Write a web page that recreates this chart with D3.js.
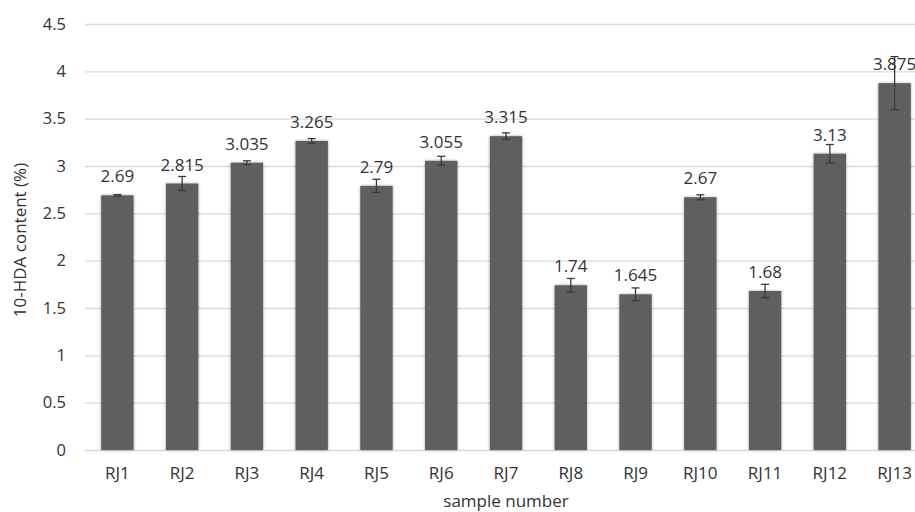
<html>
<script src='https://d3js.org/d3.v7.min.js'></script>
<style>
body {margin:0; background:#fff;}
text {font-family:'Open Sans', sans-serif; fill:#333;}
</style>
<body>
<svg width=915 height=512></svg>
<script>
var samples = ["RJ1","RJ2","RJ3","RJ4","RJ5","RJ6","RJ7","RJ8","RJ9","RJ10","RJ11","RJ12","RJ13"];
var content = [2.69, 2.815, 3.035, 3.265, 2.79, 3.055, 3.315, 1.74, 1.645, 2.67, 1.68, 3.13, 3.875];
var errors = [0.008, 0.074, 0.02, 0.025, 0.07, 0.048, 0.035, 0.072, 0.067, 0.026, 0.07, 0.097, 0.28];
var yTicks = [0, 0.5, 1, 1.5, 2, 2.5, 3, 3.5, 4, 4.5];

var svg = d3.select("svg");
var x = d3.scaleBand().domain(samples).range([85, 927]).paddingInner(0.5).paddingOuter(0.25);
var y = d3.scaleLinear().domain([0, 4.5]).range([450, 24]);

// soft shadow round the bars
var f = svg.append("defs").append("filter").attr("id","glow")
  .attr("x","-20%").attr("y","-20%").attr("width","140%").attr("height","140%");
f.append("feGaussianBlur").attr("in","SourceAlpha").attr("stdDeviation",1.5).attr("result","b");
f.append("feComponentTransfer").append("feFuncA").attr("type","linear").attr("slope",0.35);
var m = f.append("feMerge");
m.append("feMergeNode");
m.append("feMergeNode").attr("in","SourceGraphic");

// gridlines + y labels
var yAxis = svg.append("g").attr("transform","translate(85,0)")
  .call(d3.axisLeft(y).tickValues(yTicks).tickSize(-840).tickPadding(19).tickFormat(d3.format("~g")));
yAxis.select(".domain").remove();
yAxis.selectAll("line").attr("stroke","#d9d9d9").attr("stroke-width",1.3);
yAxis.selectAll("text").style("font-size","16.5px").attr("fill","#333");

// bars
svg.append("g").selectAll("rect").data(content).enter().append("rect")
  .attr("x", function(d,i){ return x(samples[i]); })
  .attr("width", x.bandwidth())
  .attr("y", function(d){ return y(d); })
  .attr("height", function(d){ return y(0) - y(d); })
  .attr("fill", "#5e5e5e")
  .attr("filter","url(#glow)");

// error bars
var eb = svg.append("g").attr("stroke","#3a3a3a").attr("stroke-width",1.3);
content.forEach(function(d,i){
  var cx = x(samples[i]) + x.bandwidth()/2;
  var t = y(d + errors[i]), b = y(d - errors[i]);
  eb.append("line").attr("x1",cx).attr("x2",cx).attr("y1",t).attr("y2",b);
  eb.append("line").attr("x1",cx-4).attr("x2",cx+4).attr("y1",t).attr("y2",t);
  eb.append("line").attr("x1",cx-4).attr("x2",cx+4).attr("y1",b).attr("y2",b);
});

// value labels
svg.append("g").selectAll("text").data(content).enter().append("text")
  .attr("x", function(d,i){ return x(samples[i]) + x.bandwidth()/2; })
  .attr("y", function(d){ return y(d) - 13; })
  .attr("text-anchor","middle")
  .style("font-size","17px")
  .text(function(d){ return d; });

// x labels
var xAxis = svg.append("g").attr("transform","translate(0,450)")
  .call(d3.axisBottom(x).tickSize(0).tickPadding(17));
xAxis.select(".domain").remove();
xAxis.selectAll("text").style("font-size","17px").attr("fill","#333");

svg.append("text").attr("x",506).attr("y",507).attr("text-anchor","middle")
  .style("font-size","17px").text("sample number");
svg.append("text").attr("transform","translate(26,240) rotate(-90)").attr("text-anchor","middle")
  .style("font-size","17px").text("10-HDA content (%)");
</script>
</body>
</html>
